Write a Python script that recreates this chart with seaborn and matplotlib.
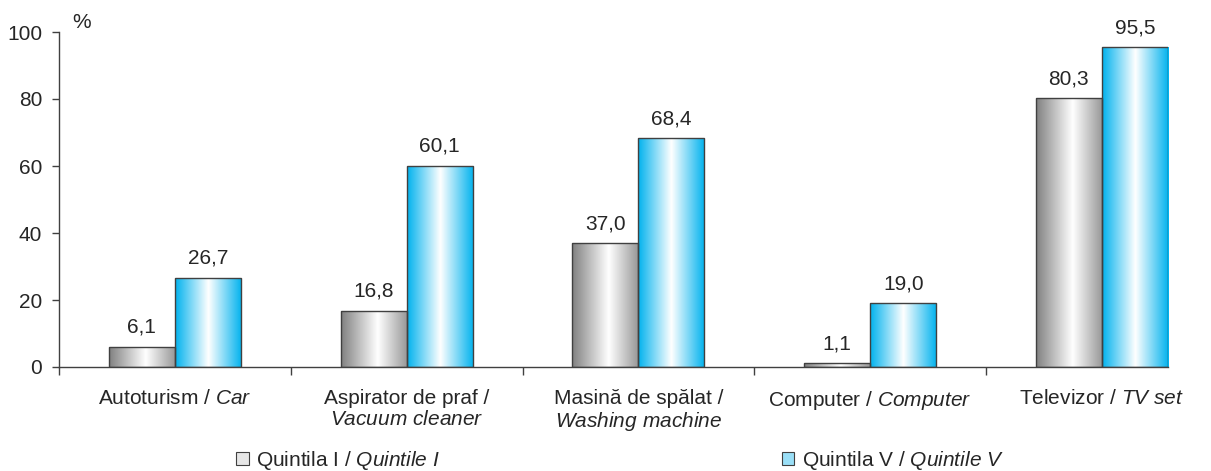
import numpy as np
import pandas as pd
import matplotlib
matplotlib.use('Agg')
import matplotlib.pyplot as plt
from matplotlib.colors import LinearSegmentedColormap
from matplotlib.patches import Patch
import seaborn as sns

# ── Data ──────────────────────────────────────────────────────────────────
categories = ['Autoturism / $\\it{Car}$',
              'Aspirator de praf /\n$\\it{Vacuum\\ cleaner}$',
              'Masină de spălat /\n$\\it{Washing\\ machine}$',
              'Computer / $\\it{Computer}$',
              'Televizor / $\\it{TV\\ set}$']
groups = ['Quintila I / $\\it{Quintile\\ I}$', 'Quintila V / $\\it{Quintile\\ V}$']
q1_values = [6.1, 16.8, 37.0, 1.1, 80.3]
q5_values = [26.7, 60.1, 68.4, 19.0, 95.5]

df = pd.DataFrame({
    'cat': categories * 2,
    'grp': [groups[0]] * 5 + [groups[1]] * 5,
    'val': q1_values + q5_values,
})

sns.set_style('white')
plt.rcParams['font.family'] = ['Liberation Sans', 'DejaVu Sans']
plt.rcParams['mathtext.fontset'] = 'custom'
plt.rcParams['mathtext.rm'] = 'Liberation Sans'
plt.rcParams['mathtext.it'] = 'Liberation Sans:italic'

FS = 15
EDGE = '#404040'
grad_maps = [
    LinearSegmentedColormap.from_list('gray', [(0, '#808080'), (0.55, '#ffffff'), (1, '#969696')]),
    LinearSegmentedColormap.from_list('blue', [(0, '#00b2ee'), (0.5, '#ffffff'), (1, '#00b2ee')]),
]

fig = plt.figure(figsize=(12.11, 4.71), dpi=100)
ax = fig.add_axes([59 / 1211, 1 - 367 / 471, (1168 - 59) / 1211, (367 - 32) / 471])

sns.barplot(data=df, x='cat', y='val', hue='grp', order=categories,
            hue_order=groups, palette=['#d0d0d0', '#7fd6f5'], width=0.57,
            edgecolor=EDGE, linewidth=1.0, legend=False, ax=ax)

# gradient fill inside each bar
grad = np.linspace(0, 1, 256).reshape(1, -1)
for cont, cmap in zip(ax.containers, grad_maps):
    for p in cont.patches:
        x0, y0 = p.get_x(), p.get_y()
        w, h = p.get_width(), p.get_height()
        im = ax.imshow(grad, cmap=cmap, aspect='auto', extent=[x0, x0 + w, y0, y0 + h],
                       zorder=2, interpolation='bilinear')
        im.set_clip_path(p)
        p.set_facecolor('none')
        p.set_zorder(3)
    ax.bar_label(cont, labels=[f'{v:.1f}'.replace('.', ',') for v in cont.datavalues],
                 padding=7, fontsize=FS)

ax.set_yticks([0, 20, 40, 60, 80, 100])
ax.set_xticks(range(5))
ax.set_xticklabels(categories, fontsize=FS, linespacing=1.1)
ax.set_xticks(np.arange(-0.5, 4.0, 1), minor=True)
ax.set_xlim(-0.5, 4.285)
ax.set_ylim(0, 100)
ax.tick_params(axis='x', which='major', length=0, pad=16)
ax.tick_params(axis='x', which='minor', length=6, width=1, color=EDGE, direction='out', bottom=True)
ax.tick_params(axis='y', length=5, width=1, color=EDGE, direction='out', left=True, labelsize=FS, pad=7)
ax.set_xlabel('')
ax.set_ylabel('')
for s in ['top', 'right']:
    ax.spines[s].set_visible(False)
for s in ['left', 'bottom']:
    ax.spines[s].set_color(EDGE)
    ax.spines[s].set_linewidth(1)

fig.text(82 / 1211, 1 - 22 / 471, '%', ha='center', va='center', fontsize=FS)

handles = [Patch(facecolor='#e6e6e6', edgecolor=EDGE, linewidth=0.8),
           Patch(facecolor='#9adff7', edgecolor=EDGE, linewidth=0.8)]
fig.legend(handles, groups, loc='center', bbox_to_anchor=(620 / 1211, 1 - 460 / 471),
           ncol=2, frameon=False, fontsize=FS, handlelength=0.6, handleheight=0.6,
           handletextpad=0.35, columnspacing=16.4, borderaxespad=0)

fig.savefig('out.png', dpi=100, facecolor='white')
